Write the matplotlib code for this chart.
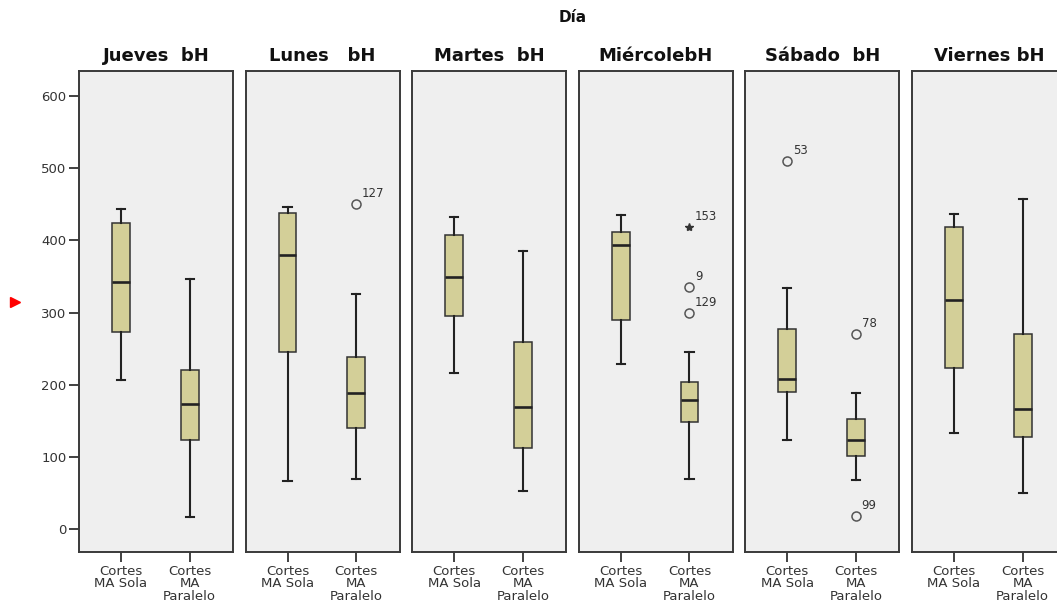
"""SPSS-style clustered boxplots: cortes MA sola vs paralelo, one panel per day."""

import matplotlib

matplotlib.use("Agg")
import matplotlib.pyplot as plt
from matplotlib.lines import Line2D

plt.rcParams.update(
    {
        "font.family": "DejaVu Sans",
        "font.size": 9,
        "axes.edgecolor": "#3a3a3a",
        "axes.linewidth": 1.4,
    }
)

BOX_FACE = "#d3cf98"
PANEL_BG = "#efefef"
INK = "#222222"

DAYS = ["Jueves  bH", "Lunes   bH", "Martes  bH", "MiércolebH", "Sábado  bH", "Viernes bH"]
GROUPS = ["Cortes\nMA Sola", "Cortes\nMA\nParalelo"]
Y_TICKS = [0, 100, 200, 300, 400, 500, 600]

# Cortes MA Sola
SOLA_WHISLO = [207, 67, 217, 229, 124, 134]
SOLA_Q1 = [273, 245, 296, 290, 190, 223]
SOLA_MED = [342, 380, 349, 393, 208, 317]
SOLA_Q3 = [424, 438, 407, 411, 278, 419]
SOLA_WHISHI = [443, 446, 432, 435, 334, 436]

# Cortes MA Paralelo
PAR_WHISLO = [17, 70, 53, 70, 68, 50]
PAR_Q1 = [123, 140, 112, 149, 102, 128]
PAR_MED = [173, 189, 169, 179, 123, 166]
PAR_Q3 = [221, 239, 259, 204, 153, 270]
PAR_WHISHI = [347, 326, 385, 245, 189, 457]

# Outliers: day index, group index (0 sola, 1 paralelo), value, case id, extreme?
OUT_DAY = [1, 3, 3, 3, 4, 4, 4]
OUT_GROUP = [1, 1, 1, 1, 0, 1, 1]
OUT_VALUE = [450, 419, 335, 299, 510, 270, 18]
OUT_ID = ["127", "153", "9", "129", "53", "78", "99"]
OUT_EXTREME = [False, True, False, False, False, False, False]

W, H = 1057, 606
PANEL_LEFT = 79
PANEL_STEP = 166.6
PANEL_W = 154
PANEL_TOP = 70.7
PANEL_BOTTOM = 552.3


def stats(whislo, q1, med, q3, whishi):
    return {"whislo": whislo, "q1": q1, "med": med, "q3": q3, "whishi": whishi, "fliers": []}


fig = plt.figure(figsize=(W / 100, H / 100), dpi=100)
fig.patch.set_facecolor("white")

for i, day in enumerate(DAYS):
    left = (PANEL_LEFT + i * PANEL_STEP) / W
    ax = fig.add_axes(
        [left, 1 - PANEL_BOTTOM / H, PANEL_W / W, (PANEL_BOTTOM - PANEL_TOP) / H]
    )
    ax.set_facecolor(PANEL_BG)
    box_stats = [
        stats(SOLA_WHISLO[i], SOLA_Q1[i], SOLA_MED[i], SOLA_Q3[i], SOLA_WHISHI[i]),
        stats(PAR_WHISLO[i], PAR_Q1[i], PAR_MED[i], PAR_Q3[i], PAR_WHISHI[i]),
    ]
    ax.bxp(
        box_stats,
        positions=[1, 2],
        widths=0.26,
        capwidths=0.12,
        patch_artist=True,
        showfliers=False,
        boxprops={"facecolor": BOX_FACE, "edgecolor": "#333333", "linewidth": 1.1},
        medianprops={"color": INK, "linewidth": 1.9},
        whiskerprops={"color": INK, "linewidth": 1.5},
        capprops={"color": INK, "linewidth": 1.5},
    )

    for d, g, v, cid, ext in zip(OUT_DAY, OUT_GROUP, OUT_VALUE, OUT_ID, OUT_EXTREME):
        if d != i:
            continue
        if ext:
            ax.plot(g + 1, v, marker="*", markersize=6, color="#333333", linestyle="none")
        else:
            ax.plot(
                g + 1, v, marker="o", markersize=6.5, markerfacecolor="none",
                markeredgecolor="#555555", markeredgewidth=1.1, linestyle="none",
            )
        ax.annotate(
            cid, xy=(g + 1, v), xytext=(4, 3), textcoords="offset points",
            ha="left", va="bottom", fontsize=8.5, color="#333333",
        )

    ax.set_xlim(0.39, 2.63)
    ax.set_ylim(-31.8, 635)
    ax.set_xticks([1, 2])
    ax.set_xticklabels(GROUPS, fontsize=9.5, linespacing=0.95, color="#333333")
    ax.tick_params(axis="x", direction="out", length=7, width=1.3, pad=2, color="#333333")
    ax.set_title(day, fontsize=13, fontweight="bold", pad=7, color="#111111")
    if i == 0:
        ax.set_yticks(Y_TICKS)
        ax.tick_params(axis="y", direction="out", length=7, width=1.3, pad=2,
                       labelsize=9.5, labelcolor="#333333", color="#333333")
    else:
        ax.set_yticks([])

fig.text(573 / W, 1 - 18 / H, "Día", ha="center", va="center",
         fontsize=11, fontweight="bold", color="#111111")

# small red pointer marker on the left edge (SPSS viewer artefact)
fig.add_artist(Line2D([15 / W], [1 - 301.5 / H], marker=">", markersize=7,
                      color="#ff0000", linestyle="none", transform=fig.transFigure))

fig.savefig("out.png", dpi=100)
